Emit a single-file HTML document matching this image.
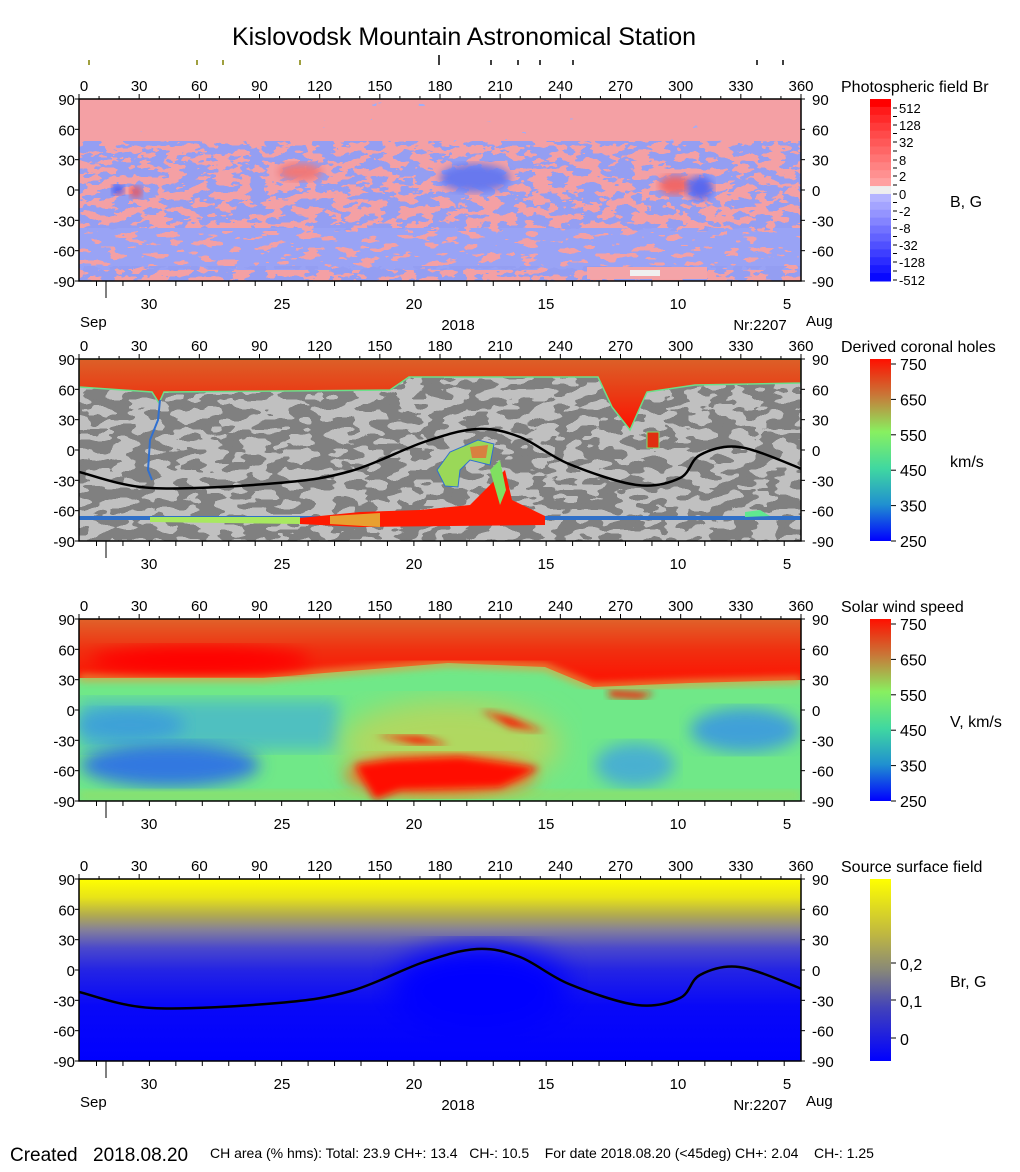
<!DOCTYPE html>
<html><head><meta charset="utf-8">
<style>
html,body{margin:0;padding:0;background:#fff;}
svg{display:block;font-family:"Liberation Sans",Arial,sans-serif;}
</style></head>
<body>
<svg id="s" width="1020" height="1172" viewBox="0 0 1020 1172" xmlns="http://www.w3.org/2000/svg">
<defs>
  <clipPath id="c1"><rect x="79" y="99" width="722" height="182"/></clipPath>
  <clipPath id="c2"><rect x="79" y="359" width="722" height="182"/></clipPath>
  <clipPath id="c3"><rect x="79" y="619" width="722" height="182"/></clipPath>
  <clipPath id="c4"><rect x="79" y="879" width="722" height="182"/></clipPath>
  <filter id="nb" x="0" y="0" width="100%" height="100%" color-interpolation-filters="sRGB">
    <feTurbulence type="fractalNoise" baseFrequency="0.06 0.13" numOctaves="3" seed="4"/>
    <feColorMatrix type="matrix" values="0 0 0 0 0.58 0 0 0 0 0.62 0 0 0 0 0.95 1 0 0 0 0"/>
    <feComponentTransfer><feFuncA type="discrete" tableValues="0 0 0 0 0 1 1 1 1 1"/></feComponentTransfer>
  </filter>
  <filter id="nbt" x="0" y="0" width="100%" height="100%" color-interpolation-filters="sRGB">
    <feTurbulence type="fractalNoise" baseFrequency="0.06 0.13" numOctaves="3" seed="7"/>
    <feColorMatrix type="matrix" values="0 0 0 0 0.64 0 0 0 0 0.68 0 0 0 0 0.96 1 0 0 0 0"/>
    <feComponentTransfer><feFuncA type="discrete" tableValues="0 0 0 0 0 0 0 0 0 0 0 0 0 1 1 1"/></feComponentTransfer>
  </filter>
  <filter id="nbb" x="0" y="0" width="100%" height="100%" color-interpolation-filters="sRGB">
    <feTurbulence type="fractalNoise" baseFrequency="0.05 0.15" numOctaves="3" seed="9"/>
    <feColorMatrix type="matrix" values="0 0 0 0 0.6 0 0 0 0 0.64 0 0 0 0 0.96 1 0 0 0 0"/>
    <feComponentTransfer><feFuncA type="discrete" tableValues="0 0 0 0 1 1 1 1 1 1"/></feComponentTransfer>
  </filter>
  <filter id="ng" x="0" y="0" width="100%" height="100%" color-interpolation-filters="sRGB">
    <feTurbulence type="fractalNoise" baseFrequency="0.045 0.1" numOctaves="2" seed="2"/>
    <feColorMatrix type="matrix" values="0 0 0 0 0.5 0 0 0 0 0.5 0 0 0 0 0.5 1 0 0 0 0"/>
    <feComponentTransfer><feFuncA type="discrete" tableValues="0 0 0 0 0 1 1 1 1 1"/></feComponentTransfer>
  </filter>
  <filter id="bl4"><feGaussianBlur stdDeviation="4"/></filter>
  <filter id="bl8"><feGaussianBlur stdDeviation="8"/></filter>
  <filter id="bl14"><feGaussianBlur stdDeviation="14"/></filter>
  <linearGradient id="g3top" x1="0" y1="0" x2="0" y2="1">
    <stop offset="0" stop-color="#e0622a"/><stop offset="0.45" stop-color="#f03010"/><stop offset="1" stop-color="#ff0c00"/>
  </linearGradient>
  <linearGradient id="g2top" x1="0" y1="0" x2="0" y2="1">
    <stop offset="0" stop-color="#dc6028"/><stop offset="0.5" stop-color="#ea3a14"/><stop offset="1" stop-color="#ff1000"/>
  </linearGradient>
  <linearGradient id="g4" x1="0" y1="0" x2="0" y2="1">
    <stop offset="0" stop-color="#ffff00"/><stop offset="0.1" stop-color="#e8e418"/>
    <stop offset="0.2" stop-color="#b0aa50"/><stop offset="0.28" stop-color="#84809a"/>
    <stop offset="0.38" stop-color="#4a48cc"/><stop offset="0.5" stop-color="#2424e4"/>
    <stop offset="0.7" stop-color="#0808f8"/><stop offset="1" stop-color="#0000ff"/>
  </linearGradient>
  <linearGradient id="cb2" x1="0" y1="0" x2="0" y2="1">
    <stop offset="0" stop-color="#ff1000"/><stop offset="0.2" stop-color="#c87838"/>
    <stop offset="0.4" stop-color="#88f060"/><stop offset="0.6" stop-color="#40d8a0"/>
    <stop offset="0.8" stop-color="#2090d0"/><stop offset="1" stop-color="#0000ff"/>
  </linearGradient>
  <linearGradient id="cb4" x1="0" y1="0" x2="0" y2="1">
    <stop offset="0" stop-color="#ffff00"/><stop offset="0.3" stop-color="#c0b840"/>
    <stop offset="0.5" stop-color="#888878"/><stop offset="0.7" stop-color="#4444b8"/>
    <stop offset="1" stop-color="#0000ff"/>
  </linearGradient>
</defs>

<text x="464" y="45" font-size="25" text-anchor="middle">Kislovodsk Mountain Astronomical Station</text>

<g clip-path="url(#c1)">
  <rect x="79" y="99" width="722" height="182" fill="#f4a0a4"/>
  <rect x="79" y="99" width="722" height="45" filter="url(#nbt)"/>
  <rect x="79" y="141" width="722" height="90" filter="url(#nb)"/>
  <rect x="79" y="228" width="722" height="42" filter="url(#nbb)"/>
  <rect x="79" y="266" width="722" height="15" filter="url(#nb)"/>
  <ellipse cx="475" cy="178" rx="35" ry="14" fill="#6878ee" filter="url(#bl4)"/>
  <ellipse cx="300" cy="172" rx="22" ry="9" fill="#f07878" filter="url(#bl4)"/>
  <ellipse cx="675" cy="185" rx="16" ry="10" fill="#f06868" filter="url(#bl4)"/>
  <ellipse cx="700" cy="188" rx="13" ry="12" fill="#5868ee" filter="url(#bl4)"/>
  <ellipse cx="118" cy="190" rx="6" ry="5" fill="#3848ee" filter="url(#bl4)"/>
  <ellipse cx="136" cy="192" rx="6" ry="6" fill="#f05050" filter="url(#bl4)"/>
  <rect x="587" y="267" width="120" height="12" fill="#f4a4a8"/>
  <rect x="630" y="270" width="30" height="6" fill="#f0f0f0"/>
</g>

<g clip-path="url(#c2)">
  <rect x="79" y="359" width="722" height="182" fill="#c0c0c0"/>
  <rect x="79" y="359" width="722" height="182" filter="url(#ng)"/>
  <path d="M79 359 H801 V383 L695 385 L647 392 L642 403 L630 430 L612 407 L598 377 L409 377 L390 390 L164 392 L159 403 L152 392 L79 387 Z" fill="url(#g2top)" stroke="#6ce08a" stroke-width="1.5"/>
  <path d="M79 516 H801 V520 H79 Z" fill="#3070c8"/>
  <path d="M300 518 L360 512 L420 510 L470 505 L505 470 L512 500 L545 516 L545 525 L360 527 L300 524 Z" fill="#ff1a00"/>
  <path d="M150 517 L300 517 L300 524 L150 522 Z" fill="#a8e860"/>
  <path d="M330 516 L380 513 L380 527 L330 524 Z" fill="#e8a030"/>
  <path d="M490 470 L500 460 L506 490 L500 505 Z" fill="#80e060"/>
  <path d="M437 470 L450 452 L478 440 L494 444 L490 465 L470 460 L460 470 L458 487 L445 486 Z" fill="#9ad858" stroke="#3070d0" stroke-width="1"/>
  <path d="M470 447 L488 445 L486 458 L472 458 Z" fill="#d88040"/>
  <rect x="647" y="432" width="12" height="16" fill="#e03010" stroke="#80e070"/>
  <path d="M745 512 L760 510 L770 516 L745 517 Z" fill="#60e890"/>
  <path d="M160 400 L158 420 L150 440 L148 470 L152 480" fill="none" stroke="#3070d0" stroke-width="2"/>
</g>

<g clip-path="url(#c3)">
  <rect x="79" y="619" width="722" height="182" fill="#70e888"/>
  <rect x="79" y="700" width="260" height="50" fill="#50c0c0" filter="url(#bl8)"/>
  <ellipse cx="170" cy="765" rx="90" ry="22" fill="#3078e0" filter="url(#bl8)"/>
  <ellipse cx="130" cy="725" rx="55" ry="16" fill="#3ca0d8" filter="url(#bl8)"/>
  <ellipse cx="745" cy="730" rx="55" ry="22" fill="#40a0d8" filter="url(#bl8)"/>
  <ellipse cx="635" cy="765" rx="40" ry="22" fill="#48b0d0" filter="url(#bl8)"/>
  <rect x="79" y="790" width="722" height="11" fill="#88e070" filter="url(#bl4)"/>
  <ellipse cx="450" cy="745" rx="110" ry="45" fill="#b0d860" filter="url(#bl14)"/>
  <ellipse cx="440" cy="775" rx="95" ry="20" fill="#f07020" filter="url(#bl8)"/>
  <path d="M355 765 L390 760 L460 757 L540 768 L500 787 L400 790 L375 800 Z" fill="#ff1000" filter="url(#bl4)"/>
  <path d="M375 735 L420 736 L450 745 L415 744 Z" fill="#ff1800" filter="url(#bl4)"/>
  <path d="M480 710 L510 717 L545 732 L510 727 Z" fill="#ff1800" filter="url(#bl4)"/>
  <path d="M608 690 L655 693 L640 699 L610 697 Z" fill="#ff1800" filter="url(#bl4)"/>
  <path d="M79 619 H801 V680 L690 683 L593 687 L545 667 L448 663 L399 667 L263 678 L79 678 Z" fill="url(#g3top)"/>
  <path d="M79 678 L263 678 L399 667 L448 663 L545 667 L593 687 L690 683 L801 680" fill="none" stroke="#e0a040" stroke-width="6" filter="url(#bl4)"/>
  <ellipse cx="200" cy="660" rx="110" ry="14" fill="#ff0000" filter="url(#bl8)"/>
</g>

<g clip-path="url(#c4)">
  <rect x="79" y="879" width="722" height="182" fill="url(#g4)"/>
  <ellipse cx="480" cy="990" rx="90" ry="45" fill="#0000ff" filter="url(#bl14)"/>
</g>

<g id="axes"></g>

<g id="cb1"></g>
<rect x="870" y="359" width="21" height="182" fill="url(#cb2)"/>
<rect x="870" y="619" width="21" height="182" fill="url(#cb2)"/>
<rect x="870" y="879" width="21" height="182" fill="url(#cb4)"/>

<g font-size="16">
<text x="841" y="92">Photospheric field Br</text>
<text x="841" y="352">Derived coronal holes</text>
<text x="841" y="612">Solar wind speed</text>
<text x="841" y="872">Source surface field</text>
<text x="950" y="207">B, G</text>
<text x="950" y="467">km/s</text>
<text x="950" y="727">V, km/s</text>
<text x="950" y="987">Br, G</text>
</g>

<g font-size="19"><text x="10" y="1161">Created</text><text x="93" y="1161">2018.08.20</text></g>
<text x="210" y="1158" font-size="14">CH area (% hms): Total: 23.9 CH+: 13.4&#160;&#160;&#160;CH-: 10.5&#160;&#160;&#160;&#160;For date 2018.08.20 (&lt;45deg) CH+: 2.04&#160;&#160;&#160;&#160;CH-: 1.25</text>

<g id="marks"></g>
</svg>
<script>
(function(){
var NS="http://www.w3.org/2000/svg";
function el(p,n,a,t){var e=document.createElementNS(NS,n);for(var k in a)e.setAttribute(k,a[k]);if(t!=null)e.textContent=t;p.appendChild(e);return e;}
var ax=document.getElementById("axes");
var X0=79,X1=801,W=722;
var tops=[99,359,619,879];
var curve=[[79,113],[152,129],[278,124],[351,112],[424,83],[477,70],[520,78],[569,105],[637,126],[680,119],[700,96],[739,88],[797,108],[810,116]];
function cr(pts,off){var d="M"+pts[0][0]+" "+(pts[0][1]+off);
 for(var i=0;i<pts.length-1;i++){var p0=pts[Math.max(0,i-1)],p1=pts[i],p2=pts[i+1],p3=pts[Math.min(pts.length-1,i+2)];
  var c1x=p1[0]+(p2[0]-p0[0])/6,c1y=p1[1]+(p2[1]-p0[1])/6,c2x=p2[0]-(p3[0]-p1[0])/6,c2y=p2[1]-(p3[1]-p1[1])/6;
  d+=" C"+c1x+" "+(c1y+off)+" "+c2x+" "+(c2y+off)+" "+p2[0]+" "+(p2[1]+off);}
 return d;}
[1,3].forEach(function(i){var g=el(ax,"g",{"clip-path":"url(#c"+(i+1)+")"});
 el(g,"path",{d:cr(curve,tops[i]),fill:"none",stroke:"#000","stroke-width":2.5});});
var days=[30,25,20,15,10,5],dayx=[149,282,414,546,678,787];
tops.forEach(function(T,pi){
 var B=T+182;
 el(ax,"rect",{x:X0,y:T,width:W,height:182,fill:"none",stroke:"#000","stroke-width":1.5});
 for(var l=0;l<=360;l+=10){var x=X0+l*W/360;el(ax,"line",{x1:x,x2:x,y1:T,y2:T-(l%30==0?5:3),stroke:"#000"});}
 for(var l=0;l<=360;l+=30){var x=X0+l*W/360;el(ax,"text",{x:x+(l==0?5:0),y:T-8,"font-size":15,"text-anchor":"middle"},l);}
 for(var la=90;la>=-90;la-=30){var y=T+(90-la)*182/180;
  el(ax,"line",{x1:X0,x2:X0-4,y1:y,y2:y,stroke:"#000"});el(ax,"line",{x1:X1,x2:X1+4,y1:y,y2:y,stroke:"#000"});
  el(ax,"text",{x:75,y:y+6,"font-size":15,"text-anchor":"end"},la);
  el(ax,"text",{x:812,y:y+6,"font-size":15},la);}
 for(var x=96.5;x<=X1;x+=26.45){el(ax,"line",{x1:x,x2:x,y1:B,y2:B+5,stroke:"#000"});}
 el(ax,"line",{x1:106,x2:106,y1:B,y2:B+17,stroke:"#000"});
 for(var k=0;k<6;k++)el(ax,"text",{x:dayx[k],y:B+28,"font-size":15,"text-anchor":"middle"},days[k]);
 if(pi==0||pi==3){
  el(ax,"text",{x:80,y:B+46,"font-size":15},"Sep");
  el(ax,"text",{x:458,y:B+49,"font-size":15,"text-anchor":"middle"},"2018");
  el(ax,"text",{x:760,y:B+49,"font-size":15,"text-anchor":"middle"},"Nr:2207");
  el(ax,"text",{x:806,y:B+45,"font-size":15},"Aug");
 }
});
var m=document.getElementById("marks");
[89,197,223,300].forEach(function(x){el(m,"line",{x1:x,x2:x,y1:60,y2:65,stroke:"#808000","stroke-width":1.5});});
el(m,"line",{x1:439,x2:439,y1:55,y2:65,stroke:"#000","stroke-width":1.5});
[491,518,540,573,757,783].forEach(function(x){el(m,"line",{x1:x,x2:x,y1:60,y2:65,stroke:"#000","stroke-width":1.5});});
var c=document.getElementById("cb1");
var reds=["#ff0000","#ff1a1a","#ff2a2a","#ff3a3a","#ff4a4a","#ff5858","#ff6666","#ff7474","#ff8282","#ff9090","#ffa0a0"];
var blues=["#b4b4ff","#a4a4ff","#9494ff","#8484ff","#7272ff","#6262ff","#5050ff","#3e3eff","#2c2cff","#1a1aff","#0808ff"];
var h=182/23;
for(var i=0;i<11;i++)el(c,"rect",{x:870,y:99+i*h,width:21,height:h+0.5,fill:reds[i]});
el(c,"rect",{x:870,y:99+11*h,width:21,height:h+0.5,fill:"#eeeeee"});
for(var i=0;i<11;i++)el(c,"rect",{x:870,y:99+(12+i)*h,width:21,height:h+0.5,fill:blues[i]});
var labs=["512","128","32","8","2","0","-2","-8","-32","-128","-512"],ly=[108,125,142,160,176,194,211,228,245,262,280];
for(var i=0;i<11;i++){el(c,"line",{x1:893,x2:897,y1:ly[i],y2:ly[i],stroke:"#000"});el(c,"text",{x:899,y:ly[i]+5,"font-size":13},labs[i]);}
for(var i=0;i<10;i++){var y=(ly[i]+ly[i+1])/2;el(c,"line",{x1:893,x2:897,y1:y,y2:y,stroke:"#000"});}
var v=["750","650","550","450","350","250"];
[359,619].forEach(function(T){for(var i=0;i<6;i++){var y=T+5+i*35.4;el(c,"line",{x1:891,x2:896,y1:y,y2:y,stroke:"#000"});el(c,"text",{x:900,y:y+6,"font-size":16},v[i]);}});
[["0,2",967],["0,1",1004],["0",1042]].forEach(function(a){el(c,"line",{x1:891,x2:896,y1:a[1]-4,y2:a[1]-4,stroke:"#000"});el(c,"text",{x:900,y:a[1]+3,"font-size":16},a[0]);});
})();
</script>
</body></html>
